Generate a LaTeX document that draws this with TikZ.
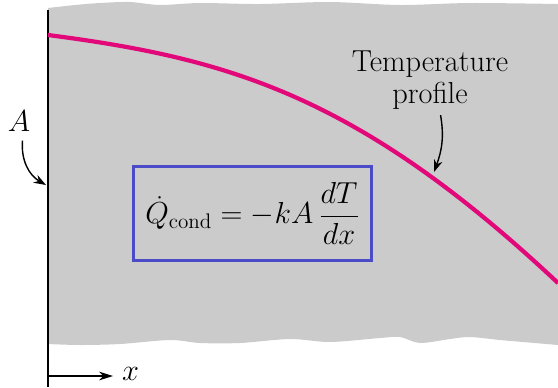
\documentclass[tikz,border=0pt]{standalone}
\usepackage{amsmath}
\usepackage{xcolor}
\usetikzlibrary{arrows.meta}
\definecolor{wallgray}{HTML}{CBCBCB}
\definecolor{profmag}{HTML}{E2087A}
\definecolor{boxblue}{HTML}{4B4BC8}
\newcommand{\qcond}{$\dot{Q}_{\mathrm{cond}} = -kA\,\dfrac{dT}{dx}$}

\begin{document}
\begin{tikzpicture}[x=0.02cm,y=-0.02cm,
    lbl/.style={inner sep=1pt,font=\fontsize{17.28}{18.5}\selectfont},
    pointer/.style={thick,-{Stealth[length=7pt,width=5pt]}},
    eqbox/.style={draw=boxblue,line width=1.7pt,minimum width=136pt,minimum height=53pt,
      font=\fontsize{17.28}{20}\selectfont}]
  \useasboundingbox (0,0) rectangle (558,387);
  % the slab
  \fill [wallgray] plot [smooth] coordinates {(48,8) (75,5) (100,3) (130,2) (160,5) (200,3) (260,4) (330,2) (400,5) (470,3) (558,4)}
    -- (558,345)
    -- plot [smooth] coordinates {(558,345) (523,342) (500,340) (470,337) (450,339) (420,343) (400,337) (380,338) (330,342) (290,339) (240,343) (200,343) (170,340) (120,344) (80,345) (48,344)}
    -- cycle;
  \draw [line width=0.9pt] (48,10) -- (48,387);
  % temperature profile
  \draw [profmag,line width=2.4pt] (48,35) .. controls (228,58.4) and (358,95) .. (558,283);
  \coordinate (onprof) at (434,172);
  \coordinate (onwall) at (46,185);
  \coordinate (origin) at (48,376);
  \node [lbl,align=center] (tp) at (430,80) {Temperature\\profile};
  \node [lbl] (A) at (19,121) {$A$};
  \node [lbl,anchor=west] (xlab) at (120,374) {$x$};
  \node [eqbox] (law) at (252.5,213.5) {\qcond};
  \draw [pointer] ([xshift=6pt,yshift=-2pt]tp.south) to [out=-80,in=70] (onprof);
  \draw [pointer] ([xshift=2pt,yshift=-4pt]A.south) to [out=-95,in=150] (onwall);
  \draw [thick,-{Stealth[length=8pt,width=5pt]}] (origin) -- ([xshift=-4pt]xlab.west |- origin);
\end{tikzpicture}
\end{document}
